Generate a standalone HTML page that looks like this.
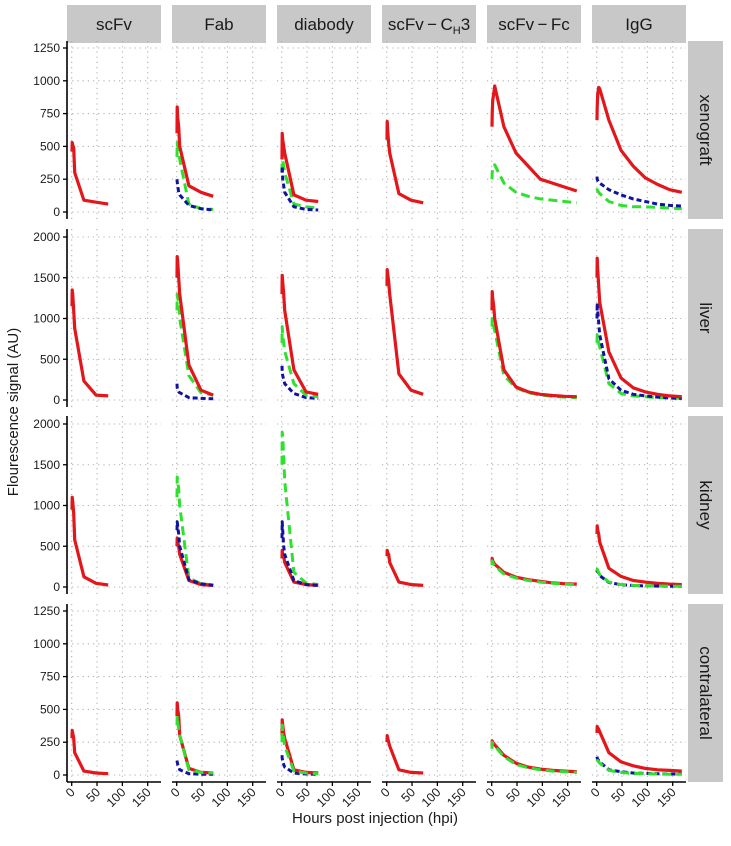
<!DOCTYPE html>
<html><head><meta charset="utf-8"><style>
html,body{margin:0;padding:0;background:#fff}
svg{display:block;font-family:"Liberation Sans",sans-serif}
</style></head><body>
<svg id="chart" width="731" height="846" viewBox="0 0 731 846" xmlns="http://www.w3.org/2000/svg"></svg>
<script>
const constructs = ["scFv","Fab","diabody","scFv-CH3","scFv-Fc","IgG"];
const organs = ["xenograft","liver","kidney","contralateral"];
const yMaxes = [1250,2000,2000,1250];
const yTicks1250 = [0,250,500,750,1000,1250];
const yTicks2000 = [0,500,1000,1500,2000];
const xTicks = [0,50,100,150];
const tShort = [0.5,1,2,4,6,24,48,72];
const tLong = [0.5,1,2,4,6,24,48,72,96,120,144,168];
// xenograft
const xenoScFvRed = [460,530,510,490,300,90,75,60];
const xenoFabRed = [600,800,720,650,500,200,150,120];
const xenoFabGreen = [420,530,500,450,400,60,25,20];
const xenoFabBlue = [250,230,200,150,130,50,25,15];
const xenoDiaRed = [400,600,550,500,450,130,90,80];
const xenoDiaGreen = [300,450,400,350,300,60,40,30];
const xenoDiaBlue = [300,350,250,200,150,40,20,15];
const xenoCH3Red = [550,690,620,520,450,140,90,70];
const xenoFcRed = [650,750,850,900,960,650,450,350,250,220,190,160];
const xenoFcGreen = [250,300,330,340,360,220,150,120,100,90,80,70];
const xenoIgGRed = [700,800,900,950,940,700,470,350,260,210,170,150];
const xenoIgGBlue = [270,250,240,230,220,170,130,100,80,60,50,45];
const xenoIgGGreen = [180,170,160,150,140,80,50,40,40,35,30,25];
// liver
const livScFvRed = [1150,1350,1300,1100,880,233,60,50];
const livFabRed = [1500,1760,1700,1500,1300,430,120,60];
const livFabGreen = [1100,1300,1250,1200,1000,300,90,60];
const livFabBlue = [200,150,120,100,90,30,20,15];
const livDiaRed = [1300,1530,1450,1300,1100,370,100,70];
const livDiaGreen = [700,900,800,700,600,200,60,40];
const livDiaBlue = [420,350,300,250,200,80,30,20];
const livCH3Red = [1400,1600,1550,1450,1300,320,120,70];
const livFcRed = [1100,1330,1250,1150,1000,370,160,100,70,55,45,40];
const livFcGreen = [900,1000,950,900,850,300,150,90,60,45,35,30];
const livIgGRed = [1500,1740,1600,1400,1200,590,270,150,100,70,50,40];
const livIgGBlue = [1000,1190,1100,950,800,260,120,70,50,35,25,20];
const livIgGGreen = [700,800,750,700,650,200,80,50,40,30,25,20];
// kidney
const kidScFvRed = [950,1100,1050,900,580,125,45,25];
const kidFabRed = [500,600,550,500,400,80,30,20];
const kidFabGreen = [1100,1350,1300,1200,1000,110,40,25];
const kidFabBlue = [700,800,750,650,500,90,40,20];
const kidDiaRed = [350,450,400,380,300,60,30,20];
const kidDiaGreen = [1500,1900,1850,1600,1300,180,50,30];
const kidDiaBlue = [600,800,700,500,400,80,30,20];
const kidCH3Red = [380,450,420,400,300,60,30,20];
const kidFcRed = [300,350,320,300,280,180,120,90,70,50,40,35];
const kidFcGreen = [270,320,300,280,260,160,110,80,60,45,35,30];
const kidIgGRed = [650,750,700,650,550,230,130,80,60,45,35,30];
const kidIgGGreen = [200,220,200,180,150,60,30,20,15,12,10,10];
const kidIgGBlue = [180,200,190,170,140,55,28,18,14,11,9,9];
// contralateral
const conScFvRed = [280,340,320,280,170,30,15,10];
const conFabRed = [450,550,500,450,300,50,20,15];
const conFabGreen = [380,450,400,350,300,40,20,15];
const conFabBlue = [110,100,80,60,40,10,5,5];
const conDiaRed = [300,420,380,320,280,40,20,15];
const conDiaGreen = [250,380,320,280,220,30,15,10];
const conDiaBlue = [150,130,100,80,60,15,8,5];
const conCH3Red = [250,300,280,250,220,40,20,15];
const conFcRed = [220,260,250,240,230,150,90,60,45,35,30,25];
const conFcGreen = [200,250,240,230,220,140,80,55,40,30,25,20];
const conIgGRed = [320,370,360,350,330,170,100,70,50,40,35,30];
const conIgGBlue = [140,130,120,110,100,40,25,15,12,10,8,8];
const conIgGGreen = [120,115,110,100,90,35,20,12,10,8,6,6];

const series = [
 [0,0,"red",tShort,xenoScFvRed],[0,1,"green",tShort,xenoFabGreen],[0,1,"blue",tShort,xenoFabBlue],[0,1,"red",tShort,xenoFabRed],
 [0,2,"green",tShort,xenoDiaGreen],[0,2,"blue",tShort,xenoDiaBlue],[0,2,"red",tShort,xenoDiaRed],[0,3,"red",tShort,xenoCH3Red],
 [0,4,"green",tLong,xenoFcGreen],[0,4,"red",tLong,xenoFcRed],[0,5,"green",tLong,xenoIgGGreen],[0,5,"blue",tLong,xenoIgGBlue],[0,5,"red",tLong,xenoIgGRed],
 [1,0,"red",tShort,livScFvRed],[1,1,"blue",tShort,livFabBlue],[1,1,"green",tShort,livFabGreen],[1,1,"red",tShort,livFabRed],
 [1,2,"blue",tShort,livDiaBlue],[1,2,"green",tShort,livDiaGreen],[1,2,"red",tShort,livDiaRed],[1,3,"red",tShort,livCH3Red],
 [1,4,"green",tLong,livFcGreen],[1,4,"red",tLong,livFcRed],[1,5,"green",tLong,livIgGGreen],[1,5,"blue",tLong,livIgGBlue],[1,5,"red",tLong,livIgGRed],
 [2,0,"red",tShort,kidScFvRed],[2,1,"green",tShort,kidFabGreen],[2,1,"red",tShort,kidFabRed],[2,1,"blue",tShort,kidFabBlue],
 [2,2,"green",tShort,kidDiaGreen],[2,2,"red",tShort,kidDiaRed],[2,2,"blue",tShort,kidDiaBlue],[2,3,"red",tShort,kidCH3Red],
 [2,4,"red",tLong,kidFcRed],[2,4,"green",tLong,kidFcGreen],[2,5,"red",tLong,kidIgGRed],[2,5,"blue",tLong,kidIgGBlue],[2,5,"green",tLong,kidIgGGreen],
 [3,0,"red",tShort,conScFvRed],[3,1,"blue",tShort,conFabBlue],[3,1,"red",tShort,conFabRed],[3,1,"green",tShort,conFabGreen],
 [3,2,"blue",tShort,conDiaBlue],[3,2,"red",tShort,conDiaRed],[3,2,"green",tShort,conDiaGreen],[3,3,"red",tShort,conCH3Red],
 [3,4,"red",tLong,conFcRed],[3,4,"green",tLong,conFcGreen],[3,5,"red",tLong,conIgGRed],[3,5,"blue",tLong,conIgGBlue],[3,5,"green",tLong,conIgGGreen]
];

const NS="http://www.w3.org/2000/svg";
const svg=document.getElementById("chart");
function mk(tag,attrs,parent){const e=document.createElementNS(NS,tag);for(const k in attrs)e.setAttribute(k,attrs[k]);(parent||svg).appendChild(e);return e;}
const colLeft=[67,172,277,382,487,592], PW=94;
const rowTop=[41,229,416,604], PH=178;
function xs(c,t){return colLeft[c]+4.7+t*76/150;}
function ys(r,v){return rowTop[r]+171-v/yMaxes[r]*(yMaxes[r]===1250?164:163);}
const colors={red:"#e3161b",green:"#2fe02f",blue:"#1212a0"};
const dashes={red:"none",green:"9 5",blue:"5 3"};

constructs.forEach((name,c)=>{
  const g=mk("g",{});
  
  
  mk("rect",{x:colLeft[c],y:5,width:PW,height:38,fill:"#c8c8c8"},g);
  const t=mk("text",{x:colLeft[c]+PW/2,y:30,"text-anchor":"middle","font-size":17,fill:"#1a1a1a"},g);
  if(name==="scFv-CH3"){t.innerHTML='scFv\u2009\u2212\u2009C<tspan font-size="11" dy="4">H</tspan><tspan dy="-4">3</tspan>';}
  else t.textContent=name.replace("-","\u2009\u2212\u2009");
});
organs.forEach((name,r)=>{
  const g=mk("g",{});
  
  
  mk("rect",{x:688,y:rowTop[r],width:35,height:PH,fill:"#c8c8c8"},g);
  const cy=rowTop[r]+PH/2, cx=700;
  const t=mk("text",{x:cx,y:cy,"text-anchor":"middle","font-size":17,fill:"#1a1a1a",transform:`rotate(90 ${cx} ${cy})`},g);
  t.textContent=name;
});
for(let r=0;r<4;r++)for(let c=0;c<6;c++){
  const g=mk("g",{});
  
  
  const ticks=yMaxes[r]===1250?yTicks1250:yTicks2000;
  ticks.forEach(v=>{const y=ys(r,v);mk("line",{x1:colLeft[c],x2:colLeft[c]+PW,y1:y,y2:y,stroke:"#b0b0b0","stroke-width":1.1,"stroke-dasharray":"1.2 4"},g);});
  xTicks.forEach(t=>{const x=xs(c,t);mk("line",{x1:x,x2:x,y1:rowTop[r],y2:rowTop[r]+PH,stroke:"#b0b0b0","stroke-width":1.1,"stroke-dasharray":"1.2 4"},g);});
}
organs.forEach((o,r)=>{
  const g=mk("g",{});
  
  
  mk("line",{x1:67,x2:67,y1:rowTop[r],y2:rowTop[r]+PH,stroke:"#000","stroke-width":1.6},g);
  const ticks=yMaxes[r]===1250?yTicks1250:yTicks2000;
  ticks.forEach(v=>{const y=ys(r,v);
    mk("line",{x1:63,x2:67,y1:y,y2:y,stroke:"#000","stroke-width":1.3},g);
    const t=mk("text",{x:60,y:y+4,"text-anchor":"end","font-size":12,fill:"#1a1a1a"},g);t.textContent=v;});
});
constructs.forEach((n,c)=>{
  const g=mk("g",{});
  
  
  const yb=rowTop[3]+PH;
  mk("line",{x1:colLeft[c],x2:colLeft[c]+PW,y1:yb,y2:yb,stroke:"#000","stroke-width":1.6},g);
  xTicks.forEach(t=>{const x=xs(c,t);
    mk("line",{x1:x,x2:x,y1:yb,y2:yb+4,stroke:"#000","stroke-width":1.3},g);
    const tx=mk("text",{x:x+4,y:yb+11,"text-anchor":"end","font-size":12.5,fill:"#1a1a1a",transform:`rotate(-45 ${x+4} ${yb+11})`},g);tx.textContent=t;});
});
series.forEach(([r,c,col,ts,vals])=>{
  const d=ts.map((t,i)=>(i?"L":"M")+xs(c,t).toFixed(1)+","+ys(r,vals[i]).toFixed(1)).join(" ");
  const p=mk("path",{d:d,fill:"none",stroke:colors[col],"stroke-width":col==="red"?3.2:3,"stroke-dasharray":dashes[col],"stroke-linejoin":"round"});
  
  
});
const xt=mk("text",{x:375,y:823,"text-anchor":"middle","font-size":15,fill:"#1a1a1a"});


xt.textContent="Hours post injection (hpi)";
const yt=mk("text",{x:18,y:412,"text-anchor":"middle","font-size":15,fill:"#1a1a1a",transform:"rotate(-90 18 412)"});


yt.textContent="Flourescence signal (AU)";
</script>
</body></html>
